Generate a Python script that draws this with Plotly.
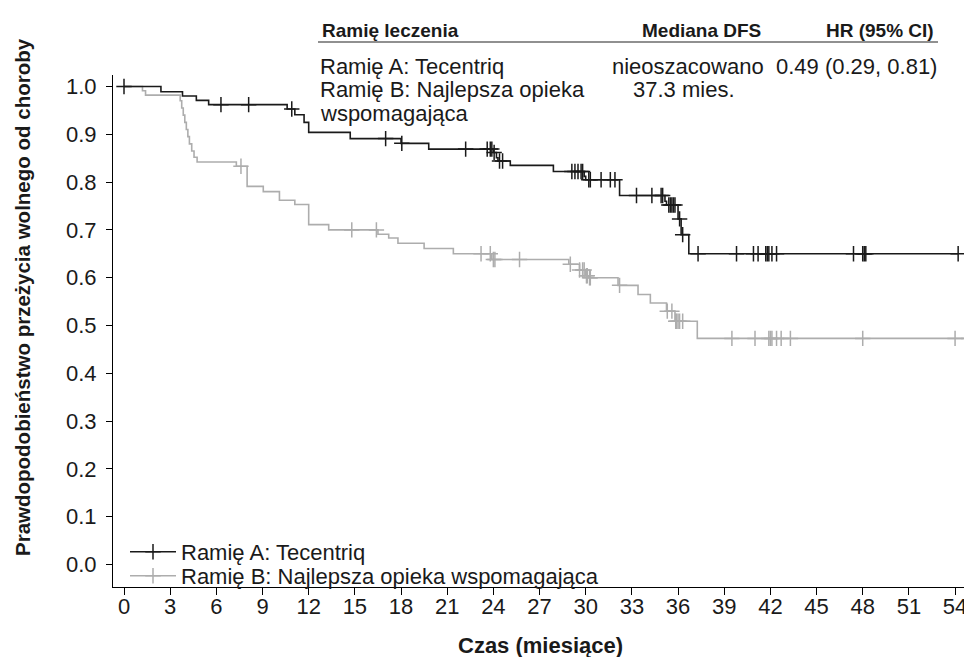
import plotly.graph_objects as go

# ---------------- data ----------------
# Arm A (Tecentriq): event times (months) and survival after each step
a_times = [0, 2.4, 3.8, 4.7, 5.5, 10.6, 11.1, 11.7, 12.0, 14.7, 18.0, 19.8, 24.0, 24.2, 24.3,
           25.1, 27.9, 29.9, 30.0, 32.2, 35.15, 35.25, 36.0, 36.2, 36.7]
a_surv = [1.0, 0.989, 0.980, 0.971, 0.962, 0.953, 0.941, 0.925, 0.904, 0.891, 0.881, 0.869, 0.862, 0.851, 0.844,
          0.835, 0.822, 0.812, 0.805, 0.772, 0.760, 0.752, 0.723, 0.690, 0.650]
a_end = 54.2
a_censor = [0, 6.3, 8.1, 10.9, 17.0, 18.05, 22.2, 23.6, 23.8, 23.9, 24.05, 24.4, 24.6,
            29.1, 29.3, 29.5, 29.7, 29.8, 30.2, 30.3, 31.0, 31.6, 31.9, 33.3, 34.3, 34.9, 35.0,
            35.4, 35.5, 35.6, 35.7, 35.8, 36.1, 36.3, 37.3, 39.8, 40.9, 41.2, 41.7, 41.8, 41.9,
            42.1, 42.4, 47.4, 48.0, 48.1, 48.2, 54.2]

# Arm B (best supportive care)
b_times = [0, 1.2, 1.4, 3.65, 3.75, 3.85, 3.95, 4.05, 4.15, 4.25, 4.4, 4.55, 4.75, 7.3, 8.0, 9.05,
           10.1, 11.1, 12.0, 13.3, 16.5, 17.2, 17.8, 19.5, 21.4, 23.9, 28.9, 29.6, 30.0, 30.2,
           32.1, 33.4, 34.2, 35.25, 35.8, 37.25]
b_surv = [1.0, 0.991, 0.982, 0.970, 0.955, 0.940, 0.925, 0.910, 0.895, 0.880, 0.865, 0.852, 0.842, 0.833, 0.791, 0.780,
          0.762, 0.753, 0.711, 0.700, 0.691, 0.683, 0.672, 0.661, 0.650, 0.638, 0.628, 0.616, 0.604, 0.600,
          0.584, 0.565, 0.547, 0.530, 0.509, 0.473]
b_end = 55.0
b_censor = [7.6, 14.8, 16.4, 23.2, 23.8, 24.0, 24.1, 25.7, 29.0, 29.6, 29.8, 29.9, 30.05, 30.1, 30.25, 30.3,
            32.2, 35.3, 35.6, 35.85, 35.9, 36.0, 36.1, 36.3, 39.5, 41.0, 41.9, 42.0, 42.1, 42.4, 42.7,
            43.3, 48.0, 54.0, 54.9]

x_ticks = list(range(0, 55, 3))
y_ticks = [0.0, 0.1, 0.2, 0.3, 0.4, 0.5, 0.6, 0.7, 0.8, 0.9, 1.0]

name_a = "Ramię A: Tecentriq"
name_b = "Ramię B: Najlepsza opieka wspomagająca"

# ---------------- helpers ----------------
def step_xy(times, surv, end):
    xs, ys = [times[0]], [surv[0]]
    for i in range(1, len(times)):
        xs += [times[i], times[i]]
        ys += [surv[i - 1], surv[i]]
    xs.append(end)
    ys.append(surv[-1])
    return xs, ys


def surv_at(times, surv, t):
    s = surv[0]
    for ti, si in zip(times, surv):
        if ti <= t:
            s = si
    return s


COL_A = "#1a1a1a"
COL_B = "#adadad"
TXT = "#1a1a1a"
FONT = "Liberation Sans, Arial, sans-serif"

fig = go.Figure()

for times, surv, end, cens, col in [
    (b_times, b_surv, b_end, b_censor, COL_B),
    (a_times, a_surv, a_end, a_censor, COL_A),
]:
    xs, ys = step_xy(times, surv, end)
    fig.add_trace(go.Scatter(x=xs, y=ys, mode="lines", line=dict(color=col, width=1.6),
                             showlegend=False, hoverinfo="skip"))
    fig.add_trace(go.Scatter(x=cens, y=[surv_at(times, surv, c) for c in cens], mode="markers",
                             marker=dict(symbol="cross-thin", size=11, line=dict(color=col, width=1.5)),
                             showlegend=False, hoverinfo="skip"))

# legend entries (one legend box per arm for exact placement)
for nm, col, lg in [(name_a, COL_A, "legend"), (name_b, COL_B, "legend2")]:
    fig.add_trace(go.Scatter(x=[None], y=[None], mode="lines+markers", name=nm, legend=lg,
                             line=dict(color=col, width=1.6),
                             marker=dict(symbol="cross-thin", size=11, line=dict(color=col, width=1.5))))

# page body has an 8px margin: the figure starts at screen (8, 8)
OFF = 8
W, H = 972 - OFF, 657 - OFF
L, R, T, B = 113 - OFF, 0, 75 - OFF, H - (587 - OFF)


def px(xs):
    return (xs - OFF - L) / (W - L - R)


def py(ys):
    return (H - B - (ys - OFF)) / (H - T - B)


leg_common = dict(xanchor="left", yanchor="middle", bgcolor="rgba(0,0,0,0)",
                  font=dict(size=22, color=TXT), itemwidth=46)

fig.update_layout(
    width=W, height=H,
    margin=dict(l=L, r=R, t=T, b=B),
    plot_bgcolor="white", paper_bgcolor="white",
    font=dict(family=FONT, size=18, color=TXT),
    showlegend=True,
    legend=dict(x=px(125), y=py(552), **leg_common),
    legend2=dict(x=px(125), y=py(576), **leg_common),
    xaxis=dict(range=[-0.715, 55.1], tickmode="array", tickvals=x_ticks,
               ticktext=[str(v) for v in x_ticks],
               showline=True, linecolor="black", linewidth=1, mirror=False,
               ticks="outside", ticklen=7, tickcolor="black", tickwidth=1,
               showgrid=False, zeroline=False, ticklabelstandoff=-7,
               tickfont=dict(size=22, color=TXT)),
    yaxis=dict(range=[-0.047, 1.024], tickmode="array", tickvals=y_ticks,
               ticktext=[f"{v:.1f}" for v in y_ticks],
               showline=True, linecolor="black", linewidth=1,
               ticks="outside", ticklen=6, tickcolor="black", tickwidth=1,
               showgrid=False, zeroline=False, ticklabelstandoff=5,
               tickfont=dict(size=22, color=TXT)),
)

ann = []
# axis titles
ann.append(dict(text="<b>Czas (miesiące)</b>", x=px(540), y=py(645), xref="paper", yref="paper",
                showarrow=False, font=dict(size=22, color=TXT), xanchor="center", yanchor="middle"))
ann.append(dict(text="<b>Prawdopodobieństwo przeżycia wolnego od choroby</b>", x=px(22), y=py(297),
                xref="paper", yref="paper", showarrow=False, textangle=-90,
                font=dict(size=20.5, color=TXT), xanchor="center", yanchor="middle"))

# header table
def cell(text, x, y, anchor="left", bold=False):
    t = f"<b>{text}</b>" if bold else text
    ann.append(dict(text=t, x=px(x), y=py(y), xref="paper", yref="paper", showarrow=False,
                    xanchor=anchor, yanchor="middle",
                    font=dict(size=19 if bold else 22, color=TXT)))

cell("Ramię leczenia", 320, 30, bold=True)
cell("Mediana DFS", 763, 30, "right", bold=True)
cell("HR (95% CI)", 936, 30, "right", bold=True)
cell("Ramię A: Tecentriq", 318, 66)
cell("nieoszacowano", 766, 66, "right")
cell("0.49 (0.29, 0.81)", 939, 66, "right")
cell("Ramię B: Najlepsza opieka", 318, 89)
cell("37.3 mies.", 684, 89, "center")
cell("wspomagająca", 318, 113)

fig.update_layout(annotations=ann,
                  shapes=[dict(type="line", xref="paper", yref="paper", x0=px(318), x1=px(938),
                               y0=py(42), y1=py(42), line=dict(color="#222222", width=1.2))])

fig.write_html("out.html")
